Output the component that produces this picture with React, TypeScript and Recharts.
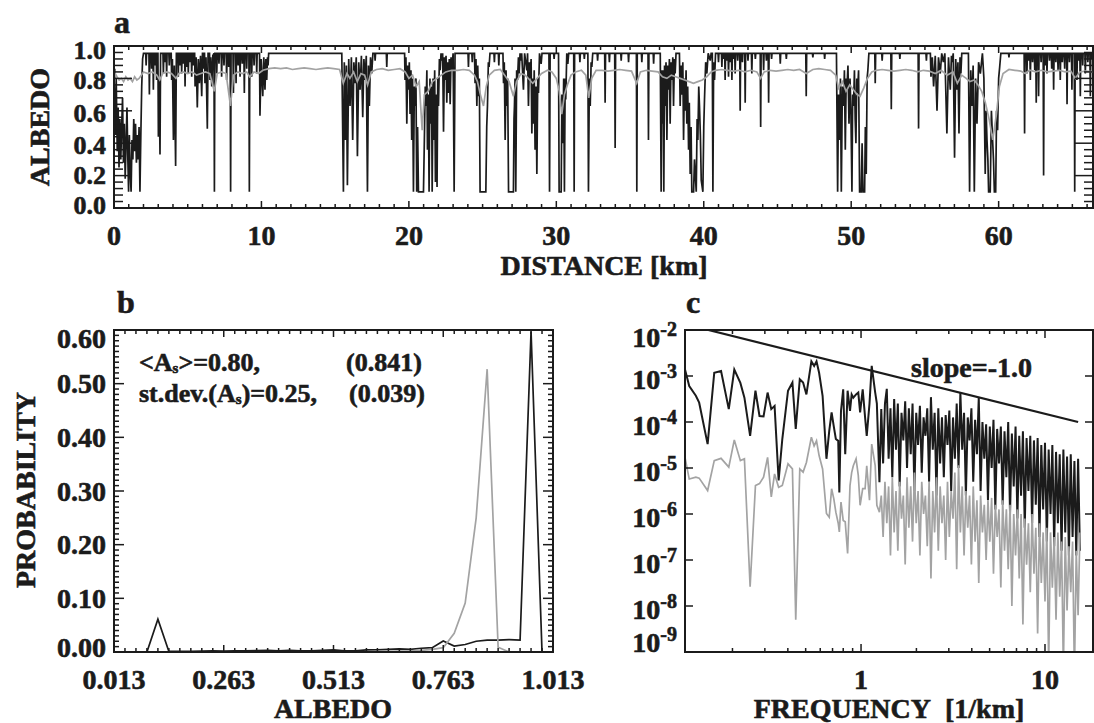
import React from 'react';
import { LineChart, Line, XAxis, YAxis, ReferenceArea } from 'recharts';

const FONT = '"Liberation Serif", "Times New Roman", serif';
const INK = '#1b1b1b';
const GREY = '#a3a3a3';

// ---------- panel a : albedo along the track ----------
// [distance km, albedo]
const blackTrack: [number, number][] = [
  [0.0, 0.73], [0.05, 0.86], [0.1, 0.45], [0.15, 0.8], [0.22, 0.35], [0.28, 0.62], [0.34, 0.25], [0.4, 0.55],
  [0.46, 0.3], [0.52, 0.5], [0.58, 0.68], [0.64, 0.28], [0.7, 0.52], [0.76, 0.18], [0.82, 0.4], [0.88, 0.62],
  [0.94, 0.3], [0.99, 0.1], [1.04, 0.45], [1.1, 0.22], [1.16, 0.1], [1.22, 0.42], [1.28, 0.3], [1.34, 0.55],
  [1.4, 0.35], [1.46, 0.52], [1.52, 0.28], [1.58, 0.45], [1.64, 0.3], [1.7, 0.5], [1.76, 0.1], [1.82, 0.45],
  [1.88, 0.75], [1.94, 0.92], [2.0, 0.955],
  [2.15, 0.955], [2.18, 0.88], [2.21, 0.955], [2.37, 0.955], [2.4, 0.7], [2.43, 0.955], [2.52, 0.955], [2.55, 0.86], [2.58, 0.955],
  [2.64, 0.955], [2.67, 0.73], [2.7, 0.955], [2.77, 0.955], [2.8, 0.88], [2.83, 0.955], [2.86, 0.955], [2.89, 0.79], [2.93, 0.955],
  [2.98, 0.955], [3.01, 0.44], [3.06, 0.8], [3.12, 0.33], [3.16, 0.955], [3.32, 0.955], [3.35, 0.83], [3.38, 0.955],
  [3.43, 0.955], [3.46, 0.9], [3.49, 0.955], [3.54, 0.955], [3.57, 0.81], [3.6, 0.955], [3.72, 0.955], [3.75, 0.88], [3.78, 0.955],
  [3.88, 0.955], [3.91, 0.79], [3.96, 0.92], [4.03, 0.42], [4.09, 0.88], [4.18, 0.26], [4.23, 0.955],
  [4.33, 0.955], [4.36, 0.81], [4.39, 0.955], [4.44, 0.955], [4.47, 0.88], [4.5, 0.955], [4.56, 0.955], [4.59, 0.83], [4.62, 0.955],
  [4.67, 0.955], [4.7, 0.89], [4.73, 0.955], [4.79, 0.955], [4.82, 0.75], [4.85, 0.955], [4.9, 0.955], [4.93, 0.87], [4.96, 0.955],
  [5.01, 0.955], [5.04, 0.83], [5.07, 0.955], [5.12, 0.955], [5.15, 0.9], [5.18, 0.955], [5.24, 0.955], [5.27, 0.81], [5.3, 0.955],
  [5.35, 0.955], [5.38, 0.88], [5.41, 0.955], [5.47, 0.955], [5.5, 0.75], [5.57, 0.93], [5.65, 0.62], [5.72, 0.92], [5.79, 0.77],
  [5.87, 0.94], [5.95, 0.69], [6.0, 0.955], [6.04, 0.955], [6.06, 0.86], [6.09, 0.955], [6.14, 0.955], [6.17, 0.77], [6.24, 0.93],
  [6.33, 0.49], [6.38, 0.955], [6.48, 0.955], [6.51, 0.79], [6.56, 0.93], [6.63, 0.75], [6.7, 0.94], [6.78, 0.955], [6.81, 0.1],
  [6.84, 0.955], [6.94, 0.955], [6.97, 0.83], [7.0, 0.955], [7.09, 0.955], [7.12, 0.89], [7.15, 0.955], [7.27, 0.955], [7.3, 0.81],
  [7.33, 0.955], [7.43, 0.955], [7.46, 0.88], [7.49, 0.955], [7.61, 0.955], [7.64, 0.79], [7.67, 0.955], [7.75, 0.955], [7.78, 0.87],
  [7.81, 0.955], [7.88, 0.955], [7.91, 0.1], [7.94, 0.955], [8.07, 0.955], [8.1, 0.71], [8.13, 0.955], [8.25, 0.955], [8.28, 0.77],
  [8.31, 0.955], [8.39, 0.955], [8.42, 0.88], [8.45, 0.955], [8.52, 0.955], [8.55, 0.81], [8.58, 0.955], [8.67, 0.955], [8.7, 0.89],
  [8.73, 0.955], [8.81, 0.955], [8.84, 0.71], [8.87, 0.955], [8.97, 0.955], [9.0, 0.86], [9.03, 0.955], [9.15, 0.955], [9.18, 0.1],
  [9.21, 0.955], [9.31, 0.955], [9.34, 0.81], [9.37, 0.955], [9.47, 0.955], [9.5, 0.88], [9.53, 0.955], [9.65, 0.955], [9.68, 0.83],
  [9.71, 0.955], [9.87, 0.955], [9.9, 0.57], [9.98, 0.92], [10.09, 0.69], [10.16, 0.93], [10.24, 0.73], [10.3, 0.92], [10.36, 0.79],
  [10.41, 0.93], [10.45, 0.88], [10.49, 0.955],
  [15.45, 0.955], [15.56, 0.1], [15.62, 0.9], [15.69, 0.42], [15.76, 0.88], [15.83, 0.14], [15.92, 0.92], [16.01, 0.63], [16.1, 0.93],
  [16.19, 0.42], [16.27, 0.9], [16.35, 0.77], [16.43, 0.93], [16.51, 0.32], [16.6, 0.9], [16.69, 0.73], [16.78, 0.94], [16.87, 0.56],
  [16.95, 0.92], [17.03, 0.79], [17.11, 0.94], [17.19, 0.1], [17.26, 0.88], [17.32, 0.63], [17.4, 0.93], [17.48, 0.83], [17.56, 0.955],
  [17.68, 0.955], [17.71, 0.91], [17.74, 0.955], [18.47, 0.955], [18.5, 0.87], [18.53, 0.955],
  [19.71, 0.955], [19.74, 0.79], [19.8, 0.93], [19.86, 0.52], [19.92, 0.88], [19.97, 0.73], [20.03, 0.9], [20.08, 0.58], [20.14, 0.85],
  [20.19, 0.42], [20.25, 0.8], [20.31, 0.1], [20.37, 0.75], [20.42, 0.63], [20.48, 0.8], [20.53, 0.1], [20.59, 0.5], [20.65, 0.1],
  [20.99, 0.1], [21.05, 0.42], [21.11, 0.75], [21.17, 0.63], [21.22, 0.85], [21.26, 0.36], [21.32, 0.7], [21.37, 0.1], [21.43, 0.8],
  [21.49, 0.52], [21.54, 0.75], [21.58, 0.1], [21.64, 0.8], [21.69, 0.42], [21.75, 0.85], [21.8, 0.16], [21.86, 0.7], [21.91, 0.13],
  [21.96, 0.8], [22.01, 0.63], [22.07, 0.92], [22.12, 0.85], [22.18, 0.955], [22.23, 0.91], [22.29, 0.955], [22.35, 0.47], [22.41, 0.93],
  [22.46, 0.79], [22.52, 0.94], [22.57, 0.65], [22.63, 0.9], [22.68, 0.71], [22.74, 0.92], [22.8, 0.64], [22.86, 0.93], [22.91, 0.85],
  [23.0, 0.955], [23.07, 0.1], [23.13, 0.955],
  [24.01, 0.955], [24.04, 0.87], [24.07, 0.955], [24.27, 0.955], [24.3, 0.9], [24.33, 0.955],
  [24.45, 0.955], [24.49, 0.77], [24.55, 0.92], [24.61, 0.63], [24.67, 0.88], [24.72, 0.69], [24.78, 0.8], [24.83, 0.1], [25.22, 0.1],
  [25.28, 0.5], [25.33, 0.63], [25.39, 0.9], [25.44, 0.87], [25.5, 0.955], [25.77, 0.955], [25.8, 0.9], [25.83, 0.955],
  [26.07, 0.955], [26.1, 0.88], [26.13, 0.955],
  [26.38, 0.955], [26.42, 0.77], [26.47, 0.9], [26.53, 0.42], [26.59, 0.85], [26.64, 0.63], [26.7, 0.8], [26.76, 0.1], [27.09, 0.1],
  [27.13, 0.55], [27.16, 0.63], [27.2, 0.8], [27.25, 0.1], [27.31, 0.85], [27.37, 0.79], [27.43, 0.93], [27.48, 0.83], [27.54, 0.955],
  [27.59, 0.91], [27.65, 0.955], [27.77, 0.73], [27.85, 0.955], [28.0, 0.85], [28.05, 0.955], [28.11, 0.63], [28.17, 0.9], [28.23, 0.8],
  [28.29, 0.92], [28.34, 0.46], [28.4, 0.8], [28.45, 0.52], [28.5, 0.85], [28.56, 0.36], [28.62, 0.75], [28.68, 0.21], [28.74, 0.8],
  [28.79, 0.71], [28.86, 0.955], [28.97, 0.89], [29.03, 0.955], [29.5, 0.955], [29.54, 0.1], [29.58, 0.955],
  [29.82, 0.955], [29.85, 0.92], [29.88, 0.955],
  [30.15, 0.955], [30.19, 0.1], [30.33, 0.1], [30.38, 0.7], [30.44, 0.4], [30.5, 0.8], [30.55, 0.1], [30.6, 0.8], [30.64, 0.67],
  [30.71, 0.955], [30.78, 0.89], [30.84, 0.955], [31.18, 0.955], [31.21, 0.1], [31.24, 0.955], [31.57, 0.955], [31.6, 0.9], [31.63, 0.955],
  [31.87, 0.955], [31.9, 0.92], [31.93, 0.955], [32.14, 0.955], [32.18, 0.1], [32.24, 0.8], [32.3, 0.63], [32.36, 0.9], [32.41, 0.87],
  [32.47, 0.955], [32.77, 0.955], [32.8, 0.91], [32.83, 0.955], [33.28, 0.955], [33.31, 0.65], [33.34, 0.955], [33.57, 0.955], [33.6, 0.9],
  [33.63, 0.955], [33.96, 0.955], [33.99, 0.37], [34.02, 0.955], [34.37, 0.955], [34.4, 0.91], [34.43, 0.955], [34.87, 0.955], [34.9, 0.9],
  [34.93, 0.955], [35.43, 0.955], [35.46, 0.1], [35.49, 0.955], [35.77, 0.955], [35.8, 0.9], [35.83, 0.955], [36.22, 0.955], [36.25, 0.42],
  [36.28, 0.955], [36.57, 0.955], [36.6, 0.89], [36.63, 0.955],
  [37.05, 0.955], [37.11, 0.1], [37.16, 0.85], [37.2, 0.52], [37.25, 0.85], [37.29, 0.1], [37.34, 0.88], [37.38, 0.63], [37.44, 0.9],
  [37.5, 0.42], [37.56, 0.88], [37.61, 0.73], [37.67, 0.92], [37.72, 0.52], [37.78, 0.9], [37.84, 0.79], [37.9, 0.93], [37.95, 0.63],
  [38.01, 0.92], [38.06, 0.83], [38.12, 0.955],
  [38.35, 0.955], [38.4, 0.63], [38.46, 0.88], [38.52, 0.7], [38.58, 0.9], [38.63, 0.42], [38.69, 0.8], [38.75, 0.6], [38.8, 0.85],
  [38.85, 0.52], [38.91, 0.75], [38.97, 0.36], [39.02, 0.65], [39.08, 0.21], [39.14, 0.5], [39.19, 0.1], [39.31, 0.1], [39.37, 0.3],
  [39.43, 0.2], [39.49, 0.1], [39.55, 0.55], [39.6, 0.42], [39.66, 0.75], [39.71, 0.63], [39.77, 0.45], [39.83, 0.17], [39.94, 0.1],
  [40.0, 0.5], [40.05, 0.67], [40.13, 0.9], [40.21, 0.83], [40.3, 0.955], [40.44, 0.91], [40.5, 0.955], [40.58, 0.955], [40.62, 0.1],
  [40.67, 0.9], [40.73, 0.79], [40.8, 0.955],
  [40.97, 0.955], [41.0, 0.9], [41.03, 0.955], [41.2, 0.955], [41.23, 0.87], [41.26, 0.955], [41.32, 0.955], [41.35, 0.92], [41.38, 0.955],
  [41.42, 0.955], [41.45, 0.79], [41.48, 0.955], [41.54, 0.955], [41.57, 0.91], [41.6, 0.955], [41.65, 0.955], [41.68, 0.81], [41.71, 0.955],
  [41.77, 0.955], [41.8, 0.9], [41.83, 0.955], [41.88, 0.955], [41.91, 0.79], [41.94, 0.955], [41.99, 0.955], [42.02, 0.92], [42.05, 0.955],
  [42.1, 0.955], [42.13, 0.83], [42.16, 0.955], [42.27, 0.955], [42.3, 0.91], [42.33, 0.955], [42.44, 0.955], [42.47, 0.6], [42.5, 0.955],
  [42.59, 0.955], [42.62, 0.9], [42.65, 0.955], [42.78, 0.955], [42.81, 0.65], [42.84, 0.955], [42.97, 0.955], [43.0, 0.91], [43.03, 0.955],
  [43.23, 0.955], [43.26, 0.83], [43.29, 0.955], [43.47, 0.955], [43.5, 0.92], [43.53, 0.955], [43.83, 0.955], [43.86, 0.5], [43.89, 0.955],
  [44.03, 0.955], [44.06, 0.85], [44.09, 0.955], [44.22, 0.955], [44.25, 0.91], [44.28, 0.955], [44.37, 0.955], [44.4, 0.65], [44.43, 0.955],
  [44.57, 0.955], [44.6, 0.92], [44.63, 0.955], [45.16, 0.955], [45.19, 0.89], [45.22, 0.955], [45.57, 0.955], [45.6, 0.92], [45.63, 0.955],
  [46.92, 0.955], [46.95, 0.69], [46.98, 0.955], [47.37, 0.955], [47.4, 0.93], [47.43, 0.955], [48.17, 0.955], [48.2, 0.92], [48.23, 0.955],
  [49.0, 0.955], [49.08, 0.1], [49.14, 0.7], [49.21, 0.42], [49.27, 0.8], [49.33, 0.1], [49.4, 0.75], [49.48, 0.63], [49.54, 0.85],
  [49.6, 0.36], [49.66, 0.8], [49.71, 0.73], [49.78, 0.88], [49.85, 0.52], [49.92, 0.8], [49.98, 0.6], [50.05, 0.1], [50.1, 0.7],
  [50.16, 0.63], [50.22, 0.85], [50.27, 0.55], [50.32, 0.4], [50.38, 0.8], [50.43, 0.71], [50.5, 0.85], [50.57, 0.1], [50.68, 0.1],
  [50.74, 0.4], [50.8, 0.1], [50.91, 0.1], [50.96, 0.5], [51.02, 0.21], [51.08, 0.8], [51.13, 0.85], [51.2, 0.955],
  [51.6, 0.955], [51.63, 0.77], [51.66, 0.955], [52.07, 0.955], [52.1, 0.91], [52.13, 0.955], [52.69, 0.955], [52.72, 0.61], [52.75, 0.955],
  [53.27, 0.955], [53.3, 0.92], [53.33, 0.955], [54.54, 0.955], [54.57, 0.49], [54.6, 0.955], [55.07, 0.955], [55.1, 0.91], [55.13, 0.955],
  [55.37, 0.955], [55.41, 0.81], [55.5, 0.93], [55.59, 0.75], [55.7, 0.94], [55.82, 0.6], [55.92, 0.93], [56.04, 0.83], [56.14, 0.955],
  [56.25, 0.9], [56.35, 0.955], [56.49, 0.46], [56.6, 0.93], [56.72, 0.73], [56.8, 0.94], [56.85, 0.9], [56.92, 0.955], [57.01, 0.31],
  [57.09, 0.92], [57.17, 0.73], [57.24, 0.9], [57.31, 0.46], [57.38, 0.93], [57.44, 0.83], [57.5, 0.955],
  [57.95, 0.955], [58.03, 0.1], [58.11, 0.85], [58.19, 0.63], [58.27, 0.88], [58.35, 0.1], [58.44, 0.8], [58.53, 0.52], [58.64, 0.9],
  [58.76, 0.83], [58.9, 0.955], [59.0, 0.8], [59.09, 0.21], [59.15, 0.6], [59.21, 0.42], [59.27, 0.3], [59.32, 0.1], [59.43, 0.1],
  [59.51, 0.6], [59.59, 0.42], [59.65, 0.3], [59.71, 0.1], [59.8, 0.1], [59.86, 0.6], [59.93, 0.48], [60.0, 0.8], [60.07, 0.87],
  [60.15, 0.955], [60.67, 0.955], [60.7, 0.93], [60.73, 0.955],
  [61.73, 0.955], [61.76, 0.46], [61.79, 0.955], [61.89, 0.955], [61.92, 0.83], [61.95, 0.955], [62.02, 0.955], [62.05, 0.91], [62.08, 0.955],
  [62.12, 0.955], [62.15, 0.79], [62.18, 0.955], [62.27, 0.955], [62.3, 0.9], [62.33, 0.955], [62.42, 0.955], [62.45, 0.85], [62.48, 0.955],
  [62.52, 0.955], [62.55, 0.65], [62.58, 0.955], [62.68, 0.955], [62.71, 0.69], [62.74, 0.955], [62.85, 0.955], [62.88, 0.9], [62.91, 0.955],
  [63.02, 0.955], [63.05, 0.2], [63.08, 0.955], [63.15, 0.955], [63.18, 0.88], [63.21, 0.955], [63.25, 0.955], [63.28, 0.83], [63.31, 0.955],
  [63.42, 0.955], [63.45, 0.91], [63.48, 0.955], [63.57, 0.955], [63.6, 0.86], [63.63, 0.955], [63.7, 0.955], [63.73, 0.73], [63.76, 0.955],
  [63.85, 0.955], [63.88, 0.9], [63.91, 0.955], [64.0, 0.955], [64.03, 0.85], [64.06, 0.955], [64.15, 0.955], [64.18, 0.79], [64.21, 0.955],
  [64.29, 0.955], [64.32, 0.9], [64.35, 0.955], [64.45, 0.955], [64.48, 0.86], [64.51, 0.955], [64.61, 0.955], [64.64, 0.64], [64.67, 0.955],
  [64.77, 0.955], [64.8, 0.9], [64.83, 0.955], [64.94, 0.955], [64.97, 0.73], [65.0, 0.955], [65.13, 0.955], [65.16, 0.1], [65.19, 0.955],
  [65.28, 0.955], [65.31, 0.79], [65.34, 0.955], [65.39, 0.955], [65.42, 0.91], [65.45, 0.955], [65.51, 0.955], [65.54, 0.69], [65.57, 0.955],
  [65.67, 0.955], [65.7, 0.88], [65.73, 0.955], [65.85, 0.955], [65.88, 0.83], [65.91, 0.955], [66.02, 0.955], [66.05, 0.9], [66.08, 0.955],
  [66.19, 0.955], [66.22, 0.69], [66.25, 0.955], [66.32, 0.955], [66.35, 0.92], [66.4, 0.955],
];

const greyTrack: [number, number][] = [
  [0.0, 0.72], [0.08, 0.83], [0.2, 0.81], [0.35, 0.79], [0.5, 0.8], [0.65, 0.78], [0.8, 0.81], [0.95, 0.79], [1.1, 0.8],
  [1.25, 0.78], [1.4, 0.81], [1.55, 0.79], [1.7, 0.8], [1.85, 0.82], [2.0, 0.84], [2.3, 0.83], [2.6, 0.84], [2.9, 0.82],
  [3.1, 0.79], [3.3, 0.83], [3.6, 0.84], [3.9, 0.83], [4.2, 0.8], [4.4, 0.83], [4.7, 0.84], [5.0, 0.83], [5.3, 0.84],
  [5.6, 0.82], [5.9, 0.83], [6.2, 0.84], [6.5, 0.83], [6.8, 0.72], [7.0, 0.83], [7.3, 0.84], [7.6, 0.83], [7.9, 0.63],
  [8.1, 0.82], [8.4, 0.84], [8.7, 0.83], [9.0, 0.84], [9.2, 0.81], [9.5, 0.84], [9.8, 0.83], [10.1, 0.85], [10.5, 0.86],
  [10.9, 0.865], [11.3, 0.86], [11.7, 0.865], [12.1, 0.855], [12.5, 0.86], [12.9, 0.865], [13.3, 0.86], [13.7, 0.855],
  [14.1, 0.86], [14.5, 0.865], [14.9, 0.86], [15.3, 0.855], [15.55, 0.77], [15.8, 0.83], [16.0, 0.8], [16.25, 0.84],
  [16.5, 0.78], [16.75, 0.83], [17.0, 0.82], [17.2, 0.76], [17.45, 0.84], [17.8, 0.855], [18.2, 0.86], [18.6, 0.85],
  [19.0, 0.855], [19.4, 0.86], [19.75, 0.84], [20.0, 0.8], [20.25, 0.82], [20.5, 0.75], [20.7, 0.78], [20.9, 0.48],
  [21.05, 0.7], [21.3, 0.72], [21.6, 0.78], [21.9, 0.8], [22.2, 0.82], [22.5, 0.84], [22.9, 0.85], [23.3, 0.85],
  [23.7, 0.855], [24.1, 0.85], [24.45, 0.82], [24.65, 0.78], [24.85, 0.7], [25.06, 0.63], [25.25, 0.75], [25.45, 0.82],
  [25.8, 0.85], [26.2, 0.855], [26.5, 0.82], [26.8, 0.78], [27.09, 0.69], [27.3, 0.78], [27.6, 0.83], [27.9, 0.82],
  [28.2, 0.79], [28.4, 0.77], [28.7, 0.8], [29.0, 0.83], [29.4, 0.85], [29.7, 0.84], [30.0, 0.8], [30.2, 0.72],
  [30.37, 0.58], [30.55, 0.7], [30.75, 0.76], [31.0, 0.82], [31.3, 0.84], [31.7, 0.85], [32.0, 0.82], [32.2, 0.68],
  [32.4, 0.8], [32.7, 0.85], [33.1, 0.85], [33.5, 0.845], [33.9, 0.85], [34.3, 0.855], [34.7, 0.85], [35.1, 0.845],
  [35.45, 0.77], [35.7, 0.84], [36.1, 0.85], [36.5, 0.845], [36.9, 0.84], [37.2, 0.81], [37.5, 0.8], [37.8, 0.82],
  [38.1, 0.81], [38.4, 0.8], [38.7, 0.79], [39.0, 0.78], [39.3, 0.77], [39.6, 0.78], [39.9, 0.79], [40.2, 0.81],
  [40.5, 0.84], [40.8, 0.85], [41.2, 0.855], [41.6, 0.85], [42.0, 0.845], [42.4, 0.85], [42.8, 0.84], [43.2, 0.85],
  [43.6, 0.84], [43.85, 0.8], [44.1, 0.84], [44.5, 0.85], [44.9, 0.845], [45.3, 0.85], [45.7, 0.855], [46.1, 0.85],
  [46.5, 0.855], [46.95, 0.83], [47.4, 0.855], [47.8, 0.86], [48.2, 0.855], [48.6, 0.85], [48.95, 0.82], [49.15, 0.74],
  [49.4, 0.78], [49.65, 0.72], [49.9, 0.76], [50.15, 0.73], [50.4, 0.7], [50.6, 0.69], [50.85, 0.74], [51.1, 0.8],
  [51.4, 0.84], [51.7, 0.85], [52.1, 0.855], [52.5, 0.85], [52.9, 0.845], [53.3, 0.85], [53.7, 0.855], [54.1, 0.85],
  [54.5, 0.84], [54.9, 0.85], [55.3, 0.845], [55.7, 0.83], [56.1, 0.85], [56.5, 0.82], [56.9, 0.84], [57.2, 0.77],
  [57.5, 0.82], [57.8, 0.8], [58.05, 0.78], [58.35, 0.79], [58.6, 0.76], [58.85, 0.72], [59.1, 0.65], [59.35, 0.55],
  [59.6, 0.42], [59.85, 0.58], [60.05, 0.75], [60.3, 0.83], [60.7, 0.855], [61.1, 0.85], [61.5, 0.845], [61.8, 0.83],
  [62.1, 0.85], [62.5, 0.84], [62.9, 0.85], [63.3, 0.84], [63.7, 0.845], [64.1, 0.85], [64.5, 0.84], [64.9, 0.845],
  [65.2, 0.8], [65.5, 0.84], [65.9, 0.845], [66.4, 0.84],
];

const distMajor = [0, 10, 20, 30, 40, 50, 60];
const distTicks = Array.from({ length: 67 }, (_, i) => i);
const albMajor = [0, 0.2, 0.4, 0.6, 0.8, 1.0];
const albTicks = Array.from({ length: 26 }, (_, i) => +(i * 0.04).toFixed(2));

// ---------- panel b : histogram ----------
const albedoBins = [
  0.013, 0.038, 0.063, 0.088, 0.113, 0.138, 0.163, 0.188, 0.213, 0.238,
  0.263, 0.288, 0.313, 0.338, 0.363, 0.388, 0.413, 0.438, 0.463, 0.488,
  0.513, 0.538, 0.563, 0.588, 0.613, 0.638, 0.663, 0.688, 0.713, 0.738,
  0.763, 0.788, 0.813, 0.838, 0.863, 0.888, 0.913, 0.938, 0.963, 0.988,
  1.013,
];
const probBlack = [
  0, 0, 0, 0, 0.061, 0.001, 0.001, 0.001, 0.0015, 0.002,
  0.0015, 0.002, 0.002, 0.0025, 0.003, 0.002, 0.003, 0.002, 0.002, 0.003,
  0.004, 0.002, 0.002, 0.004, 0.004, 0.005, 0.006, 0.005, 0.007, 0.008,
  0.0205, 0.011, 0.014, 0.02, 0.022, 0.022, 0.023, 0.022, 0.597, 0,
  0,
];
const probGrey = [
  0, 0, 0, 0, 0, 0, 0, 0, 0, 0,
  0, 0, 0, 0, 0, 0, 0, 0, 0, 0,
  0, 0, 0, 0.0005, 0.001, 0.001, 0.0015, 0.002, 0.003, 0.005,
  0.008, 0.035, 0.091, 0.25, 0.527, 0.009, 0, 0, 0, 0,
  0,
];
const binMajor = [0.013, 0.263, 0.513, 0.763, 1.013];
const binTicks = Array.from({ length: 41 }, (_, i) => +(0.013 + i * 0.025).toFixed(3));
const probMajor = [0, 0.1, 0.2, 0.3, 0.4, 0.5, 0.6];
const probTicks = Array.from({ length: 61 }, (_, i) => +(i * 0.01).toFixed(2));

// ---------- panel c : spectra (log10 frequency, log10 power) ----------
const logFreq = [
  -0.957, -0.934, -0.898, -0.88, -0.834, -0.798, -0.761, -0.719, -0.689, -0.656,
  -0.634, -0.603, -0.574, -0.552, -0.53, -0.508, -0.488, -0.47, -0.448, -0.428,
  -0.397, -0.373, -0.355, -0.333, -0.315, -0.297, -0.27, -0.255, -0.242, -0.228,
  -0.209, -0.188, -0.173, -0.16, -0.148, -0.137, -0.124, -0.118, -0.109, -0.097,
  -0.086, -0.073, -0.06, -0.051, -0.042, -0.027, -0.015, -0.005, 0.009, 0.022,
  0.031, 0.046, 0.058, 0.077, 0.086, 0.1,
  0.11, 0.12, 0.13, 0.14, 0.15, 0.16, 0.17, 0.18, 0.19, 0.2,
  0.21, 0.22, 0.23, 0.24, 0.25, 0.26, 0.27, 0.28, 0.29, 0.3,
  0.31, 0.32, 0.33, 0.34, 0.35, 0.36, 0.37, 0.38, 0.39, 0.4,
  0.41, 0.42, 0.43, 0.44, 0.45, 0.46, 0.47, 0.48, 0.49, 0.5,
  0.51, 0.52, 0.53, 0.54, 0.55, 0.56, 0.57, 0.58, 0.59, 0.6,
  0.61, 0.62, 0.63, 0.64, 0.65, 0.66, 0.67, 0.68, 0.69, 0.7,
  0.71, 0.72, 0.73, 0.74, 0.75, 0.76, 0.77, 0.78, 0.79, 0.8,
  0.81, 0.82, 0.83, 0.84, 0.85, 0.86, 0.87, 0.88, 0.89, 0.9,
  0.91, 0.92, 0.93, 0.94, 0.95, 0.96, 0.97, 0.98, 0.99, 1.0,
  1.01, 1.02, 1.03, 1.04, 1.05, 1.06, 1.07, 1.08, 1.09, 1.1,
  1.11, 1.12, 1.13, 1.14, 1.15, 1.16, 1.17, 1.18, 1.19,
];
const logPowBlack = [
  -2.86, -3.22, -3.43, -3.58, -4.48, -2.93, -2.89, -3.72, -2.86, -3.15,
  -3.47, -4.3, -3.32, -3.87, -3.88, -3.36, -3.72, -3.65, -5.27, -4.37,
  -3.32, -3.14, -4.15, -3.07, -3.14, -3.4, -2.68, -2.78, -2.68, -2.93,
  -3.43, -4.8, -4.2, -3.79, -4.1, -4.37, -4.41, -5.53, -3.76, -3.29,
  -4.7, -3.32, -3.76, -3.4, -3.47, -3.4, -3.36, -3.79, -3.29, -3.9,
  -4.3, -3.6, -2.78, -3.36, -3.6, -5.31,
  -3.72, -4.9, -3.6, -3.28, -4.8, -3.7, -5.2, -3.5, -4.6, -3.6,
  -5.4, -3.8, -4.4, -3.55, -5.0, -3.7, -4.7, -3.6, -5.5, -3.8,
  -4.5, -3.65, -5.1, -3.9, -4.3, -3.7, -5.3, -3.46, -4.6, -3.8,
  -5.6, -3.7, -4.9, -3.9, -5.2, -3.85, -4.5, -3.75, -5.5, -3.9,
  -4.8, -3.6, -5.0, -3.35, -4.6, -3.8, -5.6, -3.9, -4.4, -3.7,
  -5.3, -3.95, -4.7, -3.46, -5.5, -4.0, -4.8, -4.05, -5.7, -4.1,
  -5.0, -3.95, -5.9, -4.15, -4.9, -4.1, -5.8, -4.2, -5.2, -4.0,
  -6.0, -4.25, -5.4, -4.1, -6.1, -4.3, -5.6, -4.2, -6.3, -4.35,
  -5.5, -4.3, -6.2, -4.4, -5.8, -4.35, -6.5, -4.5, -5.9, -4.45,
  -6.6, -4.6, -6.0, -4.5, -6.7, -4.65, -6.2, -4.7, -6.8, -4.6,
  -6.4, -4.75, -6.9, -4.7, -6.5, -4.85, -6.9, -4.8, -6.8,
];
const logPowGrey = [
  -4.77, -5.24, -5.2, -5.22, -5.49, -4.84, -4.79, -4.98, -4.39, -4.84,
  -4.8, -7.58, -5.38, -5.34, -5.2, -4.77, -5.63, -5.13, -5.42, -5.38,
  -4.91, -5.02, -8.3, -5.02, -5.09, -4.88, -4.33, -4.52, -4.41, -4.73,
  -5.02, -5.99, -6.07, -5.45, -5.67, -5.96, -6.2, -6.39, -5.74, -6.14,
  -6.17, -6.86, -5.38, -5.1, -4.95, -4.8, -5.16, -5.81, -5.45, -5.45,
  -4.95, -5.7, -4.48, -4.95, -5.81, -5.96,
  -5.6, -6.5, -5.3, -6.2, -5.4, -6.9, -5.2, -6.4, -5.5, -6.8,
  -5.3, -6.1, -5.6, -7.1, -5.2, -6.3, -5.4, -6.6, -5.1, -6.2,
  -5.5, -6.9, -5.3, -6.0, -5.6, -6.7, -5.3, -7.4, -5.5, -6.4,
  -5.2, -6.8, -5.4, -6.2, -5.6, -7.0, -5.3, -6.5, -5.5, -6.1,
  -5.1, -7.2, -4.94, -6.4, -5.4, -6.9, -5.5, -6.3, -5.6, -7.1,
  -5.4, -6.6, -5.7, -7.5, -5.6, -6.4, -5.8, -7.0, -5.7, -6.6,
  -5.65, -7.3, -5.8, -6.5, -5.9, -7.6, -5.7, -6.8, -5.9, -7.2,
  -5.8, -8.0, -6.0, -6.9, -5.9, -7.4, -6.0, -8.4, -6.1, -7.1,
  -6.2, -7.7, -6.0, -7.3, -6.3, -8.6, -6.2, -7.5, -6.4, -7.9,
  -6.3, -9.3, -6.4, -7.6, -6.5, -8.3, -6.4, -7.8, -6.6, -9.4,
  -6.5, -8.1, -6.7, -7.7, -6.6, -9.5, -6.8, -8.2, -6.4,
];
const slopeLogFreq = [-0.83, 1.18];
const slopeLogPow = [-2.0, -4.0];

const decadeTicks = [-9, -8, -7, -6, -5, -4, -3, -2];
const freqMajor = [0, 1];
const freqTicks = [0.2, 0.3, 0.4, 0.5, 0.6, 0.7, 0.8, 0.9, 1, 2, 3, 4, 5, 6, 7, 8, 9, 10].map((f) => Math.log10(f));

// ---------- layout ----------
type Box = { l: number; r: number; t: number; b: number };
const boxA: Box = { l: 114, r: 1093, t: 46, b: 208 };
const boxB: Box = { l: 114, r: 553, t: 330, b: 652 };
const boxC: Box = { l: 685, r: 1093, t: 330, b: 652 };
const AX = 10;

const tickFont: React.CSSProperties = {
  fontFamily: FONT,
  fontWeight: 700,
  fontSize: 28,
  fill: INK,
  stroke: INK,
  strokeWidth: 0.6,
};
const near = (v: number, list: number[]) => list.some((m) => Math.abs(m - v) < 1e-6);

function xTick(box: Box, majors: number[], big: number, small: number, label: (v: number) => string | null) {
  return (p: any) => {
    const v = p.payload.value as number;
    const x = p.payload.coordinate ?? p.x;
    const major = near(v, majors);
    const len = major ? big : small;
    const txt = major ? label(v) : null;
    return (
      <g>
        <line x1={x} x2={x} y1={box.b} y2={box.b - len} stroke={INK} strokeWidth={1.5} />
        <line x1={x} x2={x} y1={box.t} y2={box.t + len} stroke={INK} strokeWidth={1.5} />
        {txt !== null && (
          <text x={x} y={box.b + 37} textAnchor="middle" style={tickFont}>
            {txt}
          </text>
        )}
      </g>
    );
  };
}

function yTick(
  box: Box,
  majors: number[],
  big: number,
  small: number,
  label: ((v: number) => React.ReactNode) | null,
  shift: (v: number) => number,
  size = 28,
) {
  return (p: any) => {
    const v = p.payload.value as number;
    const y = p.payload.coordinate ?? p.y;
    const major = near(v, majors);
    const len = major ? big : small;
    return (
      <g>
        <line x1={box.l} x2={box.l + len} y1={y} y2={y} stroke={INK} strokeWidth={1.5} />
        <line x1={box.r} x2={box.r - len} y1={y} y2={y} stroke={INK} strokeWidth={1.5} />
        {major && label && (
          <text x={box.l - 8} y={y + shift(v) + size * 0.34} textAnchor="end" style={{ ...tickFont, fontSize: size }}>
            {label(v)}
          </text>
        )}
      </g>
    );
  };
}

// the outer labels of the albedo axis sit a little inside the frame
const albShift: Record<string, number> = { '1.0': 4, '0.8': 2, '0.6': 2, '0.4': 2, '0.2': 0, '0.0': -3 };

const margins = (box: Box) => ({
  top: box.t,
  left: box.l - AX,
  right: 1094 - box.r,
  bottom: 723 - box.b - AX,
});

const frame = { stroke: INK, strokeWidth: 2 };
const layer: React.CSSProperties = { position: 'absolute', left: 0, top: 0 };

function PanelA() {
  const black = blackTrack.map(([x, y]) => ({ x, y }));
  const grey = greyTrack.map(([x, y]) => ({ x, y }));
  return (
    <LineChart width={1094} height={723} margin={margins(boxA)}>
      <XAxis
        type="number"
        dataKey="x"
        domain={[0, 66.4]}
        allowDataOverflow
        ticks={distTicks}
        interval={0}
        height={AX}
        axisLine={frame}
        tickLine={false}
        tick={xTick(boxA, distMajor, 7, 4, (v) => String(v))}
      />
      <YAxis
        type="number"
        domain={[0, 1]}
        allowDataOverflow
        ticks={albTicks}
        interval={0}
        width={AX}
        axisLine={frame}
        tickLine={false}
        tick={yTick(boxA, albMajor, 18, 9, (v) => v.toFixed(1), (v) => albShift[v.toFixed(1)] ?? 0, 26)}
      />
      <ReferenceArea x1={0} x2={66.4} y1={0} y2={1} fill="none" stroke={INK} strokeWidth={2} />
      <Line data={black} dataKey="y" type="linear" stroke={INK} strokeWidth={1.7} dot={false} activeDot={false} isAnimationActive={false} />
      <Line data={grey} dataKey="y" type="linear" stroke={GREY} strokeWidth={1.7} dot={false} activeDot={false} isAnimationActive={false} />
    </LineChart>
  );
}

function PanelB() {
  const black = albedoBins.map((x, i) => ({ x, y: probBlack[i] }));
  const grey = albedoBins.map((x, i) => ({ x, y: probGrey[i] }));
  return (
    <LineChart width={1094} height={723} margin={margins(boxB)}>
      <XAxis
        type="number"
        dataKey="x"
        domain={[0.013, 1.013]}
        allowDataOverflow
        ticks={binTicks}
        interval={0}
        height={AX}
        axisLine={frame}
        tickLine={false}
        tick={xTick(boxB, binMajor, 7, 4, (v) => v.toFixed(3))}
      />
      <YAxis
        type="number"
        domain={[0, 0.6]}
        allowDataOverflow
        ticks={probTicks}
        interval={0}
        width={AX}
        axisLine={frame}
        tickLine={false}
        tick={yTick(boxB, probMajor, 10, 5, (v) => v.toFixed(2), (v) => (v > 0.55 ? 8 : v < 0.05 ? -5 : 0))}
      />
      <ReferenceArea x1={0.013} x2={1.013} y1={0} y2={0.6} fill="none" stroke={INK} strokeWidth={2} />
      <Line data={black} dataKey="y" type="linear" stroke={INK} strokeWidth={1.7} dot={false} activeDot={false} isAnimationActive={false} />
      <Line data={grey} dataKey="y" type="linear" stroke={GREY} strokeWidth={1.7} dot={false} activeDot={false} isAnimationActive={false} />
    </LineChart>
  );
}

function PanelC() {
  const black = logFreq.map((x, i) => ({ x, y: logPowBlack[i] }));
  const grey = logFreq.map((x, i) => ({ x, y: logPowGrey[i] }));
  const slope = slopeLogFreq.map((x, i) => ({ x, y: slopeLogPow[i] }));
  return (
    <LineChart width={1094} height={723} margin={margins(boxC)}>
      <XAxis
        type="number"
        dataKey="x"
        domain={[-0.957, 1.261]}
        allowDataOverflow
        ticks={freqTicks}
        interval={0}
        height={AX}
        axisLine={frame}
        tickLine={false}
        tick={xTick(boxC, freqMajor, 8, 4, (v) => (v > 0.5 ? '10' : '1'))}
      />
      <YAxis
        type="number"
        domain={[-9, -2]}
        allowDataOverflow
        ticks={decadeTicks}
        interval={0}
        width={AX}
        axisLine={frame}
        tickLine={false}
        tick={yTick(
          boxC,
          decadeTicks,
          8,
          8,
          (v) => (
            <>
              10
              <tspan dy={-11} fontSize={20}>
                {String(v)}
              </tspan>
            </>
          ),
          (v) => (v === -2 ? 7 : v === -9 ? -10 : 3),
        )}
      />
      <ReferenceArea x1={-0.957} x2={1.261} y1={-9} y2={-2} fill="none" stroke={INK} strokeWidth={2} />
      <Line data={black} dataKey="y" type="linear" stroke={INK} strokeWidth={2} dot={false} activeDot={false} isAnimationActive={false} />
      <Line data={grey} dataKey="y" type="linear" stroke={GREY} strokeWidth={1.7} dot={false} activeDot={false} isAnimationActive={false} />
      <Line data={slope} dataKey="y" type="linear" stroke={INK} strokeWidth={2.2} dot={false} activeDot={false} isAnimationActive={false} />
    </LineChart>
  );
}

const txt: React.CSSProperties = {
  fontFamily: FONT,
  fontWeight: 700,
  fontSize: 28,
  fill: INK,
  stroke: INK,
  strokeWidth: 0.6,
};
const note: React.CSSProperties = { ...txt, fontSize: 26 };

export default function App() {
  return (
    <div style={{ position: 'absolute', left: 0, top: 0, width: 1094, height: 723, background: '#fff', overflow: 'hidden' }}>
      <div style={layer}>
        <PanelA />
      </div>
      <div style={layer}>
        <PanelB />
      </div>
      <div style={layer}>
        <PanelC />
      </div>
      <svg width={1094} height={723} style={{ ...layer, pointerEvents: 'none' }}>
        <text x={114} y={33} style={{ ...txt, fontSize: 32 }}>a</text>
        <text x={117} y={313} style={{ ...txt, fontSize: 32 }}>b</text>
        <text x={686} y={313} style={{ ...txt, fontSize: 32 }}>c</text>

        <text transform="translate(49,127) rotate(-90)" textAnchor="middle" style={txt}>ALBEDO</text>
        <text x={604} y={275} textAnchor="middle" style={txt}>DISTANCE [km]</text>

        <text transform="translate(35,490) rotate(-90)" textAnchor="middle" style={txt}>PROBABILITY</text>
        <text x={333} y={718} textAnchor="middle" style={txt}>ALBEDO</text>
        <text x={139} y={371} style={note}>
          {'<A'}
          <tspan dy={2} fontSize={15}>s</tspan>
          <tspan dy={-2}>{'>=0.80,'}</tspan>
        </text>
        <text x={346} y={371} style={note}>(0.841)</text>
        <text x={139} y={402} style={note}>
          {'st.dev.(A'}
          <tspan dy={2} fontSize={15}>s</tspan>
          <tspan dy={-2}>{')=0.25,'}</tspan>
        </text>
        <text x={349} y={402} style={note}>(0.039)</text>

        <text x={911} y={377} style={txt}>slope=-1.0</text>
        <text x={889} y={718} textAnchor="middle" style={txt}>{'FREQUENCY\u00a0\u00a0[1/km]'}</text>
      </svg>
    </div>
  );
}
